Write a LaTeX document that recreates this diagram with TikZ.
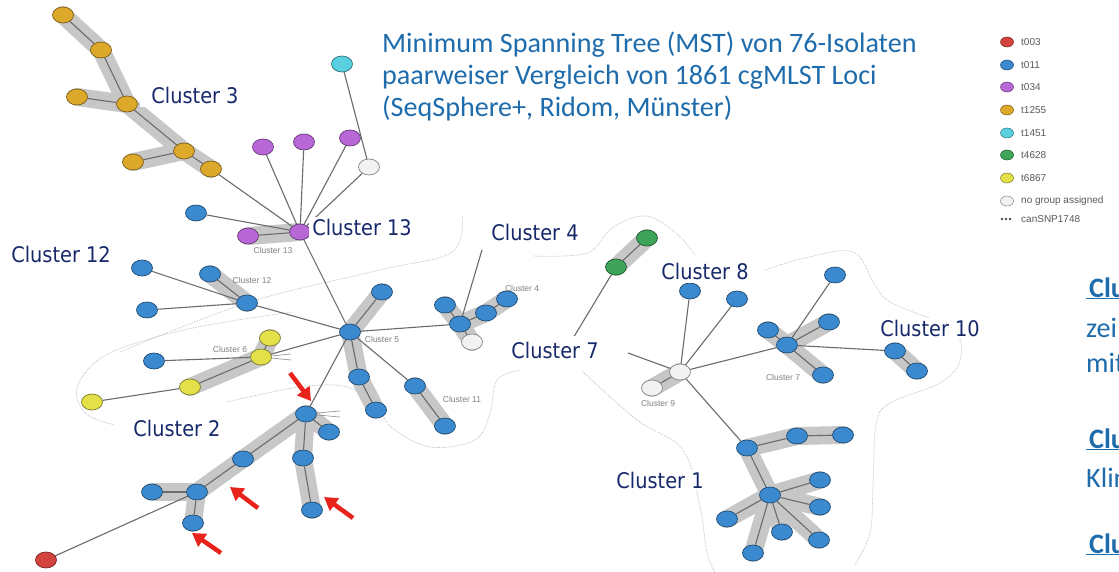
\documentclass[tikz,border=0pt]{standalone}
\usepackage{fontspec}
\usetikzlibrary{shapes.geometric,arrows.meta}
\newfontfamily\clfont{DejaVu Sans Condensed}
\newfontfamily\tifont{Carlito}
\newfontfamily\lgfont{Liberation Sans}
\definecolor{nblue}{HTML}{3B8AD0}
\definecolor{nora}{HTML}{DDA92A}
\definecolor{npur}{HTML}{B868D6}
\definecolor{ncyan}{HTML}{5ACFE0}
\definecolor{ngreen}{HTML}{3DA45A}
\definecolor{nyel}{HTML}{E4E04A}
\definecolor{nred}{HTML}{D4443E}
\definecolor{nwhite}{HTML}{F2F2F2}
\definecolor{clnavy}{HTML}{17296B}
\definecolor{tblue}{HTML}{1F6CAC}
\definecolor{arrred}{HTML}{E8231B}
\pgfdeclarelayer{hull}
\pgfdeclarelayer{band}
\pgfsetlayers{hull,band,main}
\begin{document}
\begin{tikzpicture}[x=1pt,y=-1pt,
  nd/.style={ellipse, draw=#1!55!black, fill=#1, line width=0.7pt, minimum width=21pt, minimum height=16pt, inner sep=0pt},
  lg/.style={ellipse, draw=#1!55!black, fill=#1, line width=0.5pt, minimum width=13pt, minimum height=10pt, inner sep=0pt},
  conn/.style={draw=black!58, line width=1.1pt},
  band/.style={draw=black!22, line width=18pt, line cap=round, line join=round},
  hull/.style={draw=black!28, densely dotted, line width=0.7pt},
  cl/.style={font=\clfont\fontsize{21.5}{24}\selectfont, text=clnavy, fill=white, inner xsep=3pt, inner ysep=2pt},
  sl/.style={font=\lgfont\fontsize{8.5}{10}\selectfont, text=black!50},
  lgt/.style={font=\lgfont\fontsize{10}{12}\selectfont, text=black!65, anchor=west, inner sep=0pt},
  tt/.style={font=\tifont\fontsize{28.1}{32}\selectfont, text=tblue, anchor=base west, inner sep=1pt},
  redarrow/.style={draw=arrred, line width=4.5pt, -{Triangle[length=13pt,width=15pt]}}
]
\useasboundingbox (0,0) rectangle (1119,572);
\begin{pgfonlayer}{hull}
\fill[white] (0,0) rectangle (1119,572);
\draw[hull] plot[smooth, tension=0.6] coordinates {(120,352) (250,302) (380,270) (452,252) (462,215)};
\draw[hull] plot[smooth, tension=0.6] coordinates {(293,312) (193,328) (110,353) (78,385) (85,413) (115,425)};
\draw[hull] plot[smooth, tension=0.6] coordinates {(227,402) (300,387) (347,387) (377,407) (392,428) (430,447) (475,440) (490,413) (497,380) (520,370)};
\draw[hull] plot[smooth, tension=0.6] coordinates {(533,256) (587,253) (612,228) (645,216) (675,232) (695,255)};
\draw[hull] plot[smooth, tension=0.6] coordinates {(765,270) (805,258) (853,252) (875,285) (892,303) (953,330) (960,360) (940,383) (890,403) (876,425) (873,487) (870,533) (855,565)};
\draw[hull] plot[smooth, tension=0.6] coordinates {(583,372) (637,420) (683,450) (700,507) (707,553) (715,572)};
\end{pgfonlayer}

% ---- nodes ----
% cluster 3
\node[nd=nora] (c3a) at (63,15) {};
\node[nd=nora] (c3b) at (101,50) {};
\node[nd=nora] (c3c) at (77,97) {};
\node[nd=nora] (c3d) at (127,104) {};
\node[nd=nora] (c3e) at (184,151) {};
\node[nd=nora] (c3f) at (133,162) {};
\node[nd=nora] (c3g) at (211,169) {};
% cluster 13
\node[nd=ncyan] (cy) at (342,64) {};
\node[nd=nwhite] (wht13) at (369,167) {};
\node[nd=npur] (p1) at (263,147) {};
\node[nd=npur] (p2) at (304,142) {};
\node[nd=npur] (p3) at (350,138) {};
\node[nd=npur] (h13) at (300,232) {};
\node[nd=npur] (p4) at (248,236) {};
\node[nd=nblue] (b13) at (196,213) {};
% cluster 12
\node[nd=nblue] (c12a) at (142,268) {};
\node[nd=nblue] (c12b) at (210,274) {};
\node[nd=nblue] (c12h) at (247,303) {};
\node[nd=nblue] (c12c) at (147,310) {};
% cluster 5 / 11
\node[nd=nblue] (h5) at (350,332) {};
\node[nd=nblue] (c5a) at (382,292) {};
\node[nd=nblue] (c5b) at (359,377) {};
\node[nd=nblue] (c5c) at (376,410) {};
\node[nd=nblue] (c11a) at (415,386) {};
\node[nd=nblue] (c11b) at (445,426) {};
% cluster 4
\node[nd=nblue] (c4a) at (445,305) {};
\node[nd=nblue] (c4h) at (460,324) {};
\node[nd=nblue] (c4b) at (486,313) {};
\node[nd=nblue] (c4c) at (507,299) {};
\node[nd=nwhite] (c4w) at (472,342) {};
\coordinate (c4end) at (482,250);
% cluster 6
\node[nd=nyel] (y1) at (270,338) {};
\node[nd=nyel] (yh) at (261,357) {};
\node[nd=nyel] (y2) at (190,387) {};
\node[nd=nyel] (y3) at (92,402) {};
\node[nd=nblue] (c6b) at (154,361) {};
% cluster 2
\node[nd=nblue] (c2h) at (306,414) {};
\node[nd=nblue] (c2a) at (329,432) {};
\node[nd=nblue] (c2b) at (303,458) {};
\node[nd=nblue] (c2c) at (312,510) {};
\node[nd=nblue] (c2d) at (243,459) {};
\node[nd=nblue] (c2e) at (197,492) {};
\node[nd=nblue] (c2f) at (152,492) {};
\node[nd=nblue] (c2g) at (193,523) {};
\node[nd=nred] (red) at (46,560) {};
% green
\node[nd=ngreen] (g1) at (647,238) {};
\node[nd=ngreen] (g2) at (616,267) {};
\coordinate (gend) at (572,340);
% cluster 9 / 8
\node[nd=nwhite] (w9h) at (680,372) {};
\node[nd=nwhite] (w9) at (652,388) {};
\coordinate (w9end) at (628,353);
\node[nd=nblue] (c8a) at (690,291) {};
\node[nd=nblue] (c8b) at (737,299) {};
% cluster 7 / 10
\node[nd=nblue] (c7h) at (787,345) {};
\node[nd=nblue] (c7a) at (768,330) {};
\node[nd=nblue] (c7b) at (829,322) {};
\node[nd=nblue] (c7c) at (823,375) {};
\node[nd=nblue] (c7d) at (835,275) {};
\node[nd=nblue] (c10a) at (895,351) {};
\node[nd=nblue] (c10b) at (917,371) {};
% cluster 1
\node[nd=nblue] (c1t) at (747,448) {};
\node[nd=nblue] (c1a) at (797,436) {};
\node[nd=nblue] (c1b) at (843,435) {};
\node[nd=nblue] (c1h) at (770,495) {};
\node[nd=nblue] (c1c) at (820,480) {};
\node[nd=nblue] (c1d) at (820,507) {};
\node[nd=nblue] (c1e) at (819,540) {};
\node[nd=nblue] (c1f) at (782,532) {};
\node[nd=nblue] (c1g) at (753,553) {};
\node[nd=nblue] (c1i) at (727,519) {};
% canSNP marker lines
\coordinate (m1) at (291,354); \coordinate (m2) at (291,360);
\coordinate (m3) at (340,411); \coordinate (m4) at (340,417);

% ---- bands ----
\begin{pgfonlayer}{band}
\draw[band] (c3a.center) -- (c3b.center) -- (c3d.center) -- (c3e.center) -- (c3g.center);
\draw[band] (c3c.center) -- (c3d.center);
\draw[band] (c3f.center) -- (c3e.center);
\draw[band] (p4.center) -- (h13.center);
\draw[band] (c12b.center) -- (c12h.center);
\draw[band] (c5a.center) -- (h5.center) -- (c5b.center) -- (c5c.center);
\draw[band] (c11a.center) -- (c11b.center);
\draw[band] (c4a.center) -- (c4h.center) -- (c4w.center);
\draw[band] (c4h.center) -- (c4b.center) -- (c4c.center);
\draw[band] (y1.center) -- (yh.center) -- (y2.center);
\draw[band] (c2a.center) -- (c2h.center) -- (c2b.center) -- (c2c.center);
\draw[band] (c2h.center) -- (c2d.center) -- (c2e.center) -- (c2g.center);
\draw[band] (c2f.center) -- (c2e.center);
\draw[band] (g1.center) -- (g2.center);
\draw[band] (w9.center) -- (w9h.center);
\draw[band] (c7a.center) -- (c7h.center) -- (c7c.center);
\draw[band] (c7h.center) -- (c7b.center);
\draw[band] (c10a.center) -- (c10b.center);
\draw[band] (c1b.center) -- (c1a.center) -- (c1t.center) -- (c1h.center);
\foreach \b in {c1c,c1d,c1e,c1f,c1g,c1i} \draw[band] (c1h.center) -- (\b.center);
\end{pgfonlayer}

% ---- connectors ----
\foreach \a/\b in {c3a/c3b,c3b/c3d,c3c/c3d,c3d/c3e,c3f/c3e,c3e/c3g,c3g/h13,
  cy/wht13,wht13/h13,p1/h13,p2/h13,p3/h13,p4/h13,b13/h13,h13/h5,
  c12a/c12h,c12b/c12h,c12c/c12h,c12h/h5,
  h5/c5a,h5/c5b,c5b/c5c,h5/c11a,c11a/c11b,
  h5/c4h,c4a/c4h,c4h/c4w,c4h/c4b,c4b/c4c,c4h/c4end,
  yh/h5,c6b/yh,y1/yh,yh/y2,y2/y3,
  h5/c2h,c2h/c2a,c2h/c2b,c2b/c2c,c2h/c2d,c2d/c2e,c2f/c2e,c2e/c2g,red/c2e,
  g1/g2,g2/gend,
  w9h/w9,w9h/w9end,w9h/c8a,w9h/c8b,w9h/c7h,w9h/c1t,
  c7h/c7a,c7h/c7b,c7h/c7c,c7h/c7d,c7h/c10a,c10a/c10b,
  c1t/c1a,c1a/c1b,c1t/c1h,c1h/c1c,c1h/c1d,c1h/c1e,c1h/c1f,c1h/c1g,c1h/c1i}
  \draw[conn] (\a) -- (\b);
\draw[draw=black!45, line width=0.6pt] (yh) -- (m1) (yh) -- (m2) (c2h) -- (m3) (c2h) -- (m4);

% ---- small gray cluster labels ----
\node[sl] (s13) at (273,250) {Cluster 13};
\node[sl] (s12) at (252,280) {Cluster 12};
\node[sl] (s5) at (382,339) {Cluster 5};
\node[sl] (s6) at (230,349) {Cluster 6};
\node[sl] (s4) at (522,288) {Cluster 4};
\node[sl] (s11) at (462,399) {Cluster 11};
\node[sl] (s7) at (783,377) {Cluster 7};
\node[sl] (s9) at (658,403) {Cluster 9};

% ---- big labels ----
\node[cl, inner xsep=11pt, inner ysep=4pt] (L3) at (195,95) {Cluster 3};
\node[cl] (L13) at (362,227) {Cluster 13};
\node[cl] (L12) at (61,254) {Cluster 12};
\node[cl, inner xsep=8pt, inner ysep=5pt] (L4) at (535,232) {Cluster 4};
\node[cl, inner ysep=4pt] (L8) at (705,271) {Cluster 8};
\node[cl] (L10) at (930,328) {Cluster 10};
\node[cl, inner xsep=8pt, inner ysep=6pt] (L7) at (555,350) {Cluster 7};
\node[cl, inner xsep=8pt, inner ysep=6pt] (L2) at (177,428) {Cluster 2};
\node[cl] (L1) at (660,480) {Cluster 1};

% ---- title ----
\node[tt, fill=white] (t1) at (381,53) {Minimum Spanning Tree (MST) von 76-Isolaten};
\node[tt, fill=white] (t2) at (381,85) {paarweiser Vergleich von 1861 cgMLST Loci};
\node[tt, fill=white] (t3) at (381,117) {(SeqSphere+, Ridom, Münster)};

% ---- right side text (cut off at the picture's edge, as in the reference) ----
\node[tt] (r1) at (1085,297) {\textbf{\underline{\hspace{3pt}Clu}}};
\node[tt] (r2) at (1085,337) {zei};
\node[tt] (r3) at (1085,372) {mit};
\node[tt] (r4) at (1085,448) {\textbf{\underline{\hspace{3pt}Clu}}};
\node[tt] (r5) at (1085,487) {Klin};
\node[tt] (r6) at (1085,553) {\textbf{\underline{\hspace{3pt}Clu}}};

% ---- legend ----
\node[lg=nred] (k1) at (1007,42) {};
\node[lg=nblue] (k2) at (1007,65) {};
\node[lg=npur] (k3) at (1007,87) {};
\node[lg=nora] (k4) at (1007,110) {};
\node[lg=ncyan] (k5) at (1007,133) {};
\node[lg=ngreen] (k6) at (1007,155) {};
\node[lg=nyel] (k7) at (1007,178) {};
\node[lg=nwhite] (k8) at (1007,201) {};
\node[lgt] (kt1) at (1021,42) {t003};
\node[lgt] (kt2) at (1021,65) {t011};
\node[lgt] (kt3) at (1021,87) {t034};
\node[lgt] (kt4) at (1021,110) {t1255};
\node[lgt] (kt5) at (1021,133) {t1451};
\node[lgt] (kt6) at (1021,155) {t4628};
\node[lgt] (kt7) at (1021,178) {t6867};
\node[lgt] (kt8) at (1021,201) {no group assigned};
\node[lgt] (kt9) at (1021,219) {canSNP1748};
\foreach \x in {1002,1006,1010} \fill[black!70] (\x,219) circle (1.3pt);

% ---- red arrows ----
\coordinate (a1s) at (290,373); \coordinate (a1e) at (311,401);
\coordinate (a2s) at (258,508); \coordinate (a2e) at (230,487);
\coordinate (a3s) at (353,518); \coordinate (a3e) at (324,497);
\coordinate (a4s) at (221,553); \coordinate (a4e) at (192,533);
\draw[redarrow] (a1s) -- (a1e);
\draw[redarrow] (a2s) -- (a2e);
\draw[redarrow] (a3s) -- (a3e);
\draw[redarrow] (a4s) -- (a4e);
\end{tikzpicture}
\end{document}
